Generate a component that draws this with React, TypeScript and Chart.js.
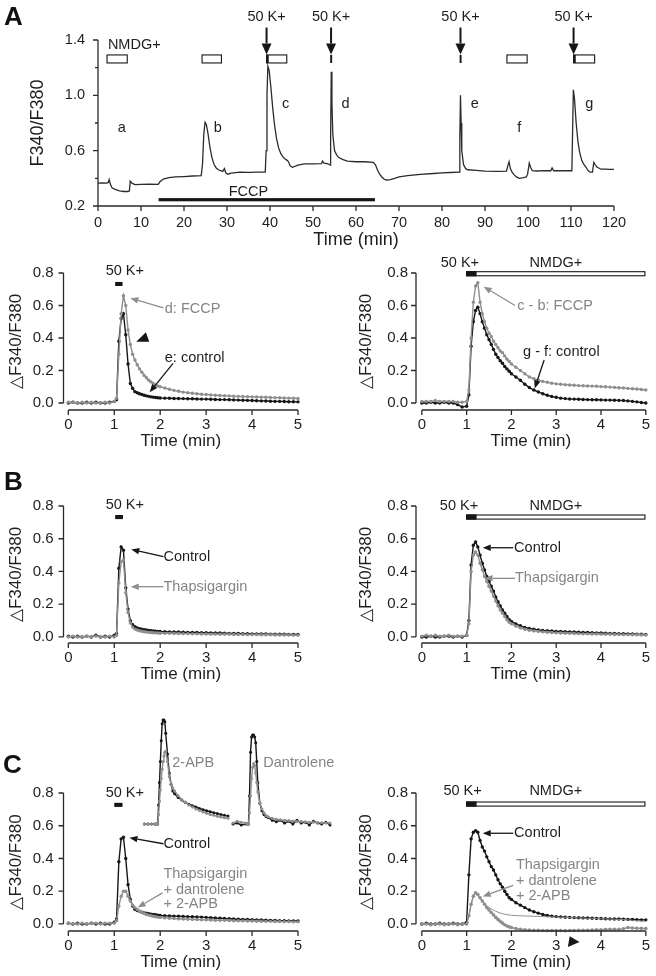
import React, { useEffect, useRef } from 'react';
import { Chart, registerables } from 'chart.js';
Chart.register(...registerables);

const FONT = '"Liberation Sans", Arial, Helvetica, sans-serif';
const INK = '#1e1e1e';
const AXIS = '#2a2a2a';
const BLACK = '#161616';
const GRAY = '#8e8e8e';
const GRAY_TXT = '#858585';

// ---------------- Panel A: whole recording ----------------
const A_TIME = [0,1,2,2.4,2.6,2.9,3.3,4,5,6,7,7.3,7.5,7.9,8.6,10,12,14,14.4,15.2,16.5,18,20,22,24,24.3,24.6,24.9,25.2,25.6,26,26.5,27,27.5,28,29,29.4,29.7,30.2,31,33,35,37,38.9,39.1,39.3,39.5,39.8,40.2,40.6,41,41.5,42,42.5,43,43.5,44,44.3,44.7,45.2,46.5,48,50,52,52.2,52.6,53.5,54,54.1,54.25,54.4,54.6,55,55.5,56,57,58,60,62,64,64.5,65,65.5,66,66.5,67,68,69,70,72,75,78,80,82,84,84.15,84.3,84.45,84.6,85,85.5,86,88,90,93,95,95.3,95.6,95.9,96.3,96.8,97.3,98,99,99.6,99.9,100.3,100.6,101,102,104,105.3,105.6,106,108,110.2,110.35,110.55,110.8,111.2,111.6,112,112.5,113,113.5,114,114.5,115,115.3,115.6,116,117,118,119,120];
const A_RATIO = [0.365,0.367,0.366,0.37,0.39,0.355,0.33,0.32,0.31,0.305,0.305,0.31,0.38,0.365,0.355,0.357,0.358,0.356,0.375,0.395,0.405,0.41,0.413,0.417,0.42,0.5,0.72,0.805,0.79,0.72,0.63,0.55,0.5,0.475,0.462,0.45,0.47,0.44,0.43,0.438,0.445,0.443,0.445,0.445,0.6,1.0,1.21,1.18,1.06,0.92,0.8,0.69,0.62,0.58,0.555,0.54,0.53,0.52,0.49,0.48,0.495,0.505,0.505,0.507,0.525,0.51,0.505,0.495,0.7,1.17,0.95,0.72,0.6,0.57,0.55,0.535,0.525,0.52,0.52,0.515,0.5,0.46,0.43,0.41,0.395,0.388,0.39,0.4,0.41,0.42,0.428,0.435,0.44,0.442,0.445,0.7,1.0,0.8,0.6,0.5,0.47,0.462,0.457,0.452,0.45,0.452,0.49,0.52,0.47,0.445,0.425,0.41,0.4,0.405,0.41,0.43,0.51,0.48,0.455,0.453,0.455,0.455,0.475,0.455,0.455,0.455,0.7,1.04,0.98,0.8,0.67,0.59,0.53,0.5,0.48,0.455,0.445,0.445,0.515,0.5,0.482,0.466,0.466,0.465,0.465];
const A_X_TICKS = [0,10,20,30,40,50,60,70,80,90,100,110,120];
const A_Y_TICKS = [0.2,0.6,1.0,1.4];
const A_Y_MINOR = [0.4,0.8,1.2];
const K_TIMES = [39.2,54.2,84.3,110.6];
const NMDG_BOXES = [[2.1,6.8],[24.2,28.7],[39.2,43.9],[95.1,99.8],[110.6,115.5]];
const K_MARKS = [[39.2,39.7],[54.0,54.45],[84.1,84.55],[110.6,111.1]];
const TRACE_LABELS = ['a','b','c','d','e','f','g'];
const TRACE_LABEL_T = [4.6,26.9,42.8,56.6,86.7,97.5,113.3];
const TRACE_LABEL_Y = [0.767,0.767,0.937,0.937,0.937,0.767,0.937];
const FCCP_RANGE = [14.1,64.4];

// ---------------- small panels (time in min) ----------------
const T5 = [0,0.1,0.2,0.3,0.4,0.5,0.6,0.7,0.8,0.9,1,1.05,1.1,1.15,1.2,1.25,1.3,1.35,1.4,1.45,1.5,1.55,1.6,1.65,1.7,1.75,1.8,1.85,1.9,1.95,2,2.1,2.2,2.3,2.4,2.5,2.6,2.7,2.8,2.9,3,3.1,3.2,3.3,3.4,3.5,3.6,3.7,3.8,3.9,4,4.1,4.2,4.3,4.4,4.5,4.6,4.7,4.8,4.9,5];
const X5_TICKS = [0,1,2,3,4,5];
const DF_TICKS = [0,0.2,0.4,0.6,0.8];

const A1_FCCP = [0.005,0.005,0,0.005,0,0.005,0,0,0.005,0,0.01, 0.03,0.3,0.55,0.66,0.6,0.45,0.36,0.3,0.265,0.235,0.21,0.19,0.17,0.155,0.14,0.13,0.12,0.11,0.105,0.1, 0.092,0.085,0.078,0.072,0.067,0.063,0.06,0.057,0.054,0.052,0.05,0.048,0.046,0.045,0.044,0.042,0.041,0.04,0.039,0.038,0.037,0.036,0.035,0.034,0.033,0.032,0.031,0.03,0.029,0.028];
const A1_CONTROL = [0,0.005,0,0,0.005,0,0.005,0,0,0.005,0.01, 0.02,0.38,0.52,0.55,0.42,0.24,0.12,0.09,0.07,0.063,0.057,0.052,0.048,0.044,0.041,0.038,0.036,0.034,0.032,0.031, 0.03,0.029,0.028,0.028,0.027,0.026,0.026,0.025,0.024,0.024,0.023,0.022,0.021,0.021,0.02,0.019,0.018,0.017,0.016,0.015,0.014,0.013,0.012,0.011,0.01,0.01,0.009,0.008,0.008,0.007];
const A2_FCCP = [0.01,0.01,0.01,0.015,0.01,0.01,0.01,0.01,0.005,0.005,0.01, 0.08,0.4,0.62,0.72,0.74,0.62,0.55,0.5,0.46,0.43,0.41,0.38,0.36,0.34,0.32,0.31,0.29,0.27,0.255,0.24, 0.22,0.2,0.18,0.16,0.15,0.14,0.133,0.128,0.122,0.118,0.115,0.113,0.111,0.109,0.107,0.106,0.105,0.104,0.103,0.101,0.1,0.098,0.096,0.094,0.092,0.09,0.088,0.086,0.083,0.08];
const A2_CONTROL = [0,0,0.005,0,0,0.005,0,0,-0.01,-0.025,-0.02, 0.05,0.35,0.5,0.57,0.59,0.55,0.5,0.46,0.42,0.39,0.36,0.33,0.3,0.28,0.26,0.245,0.225,0.21,0.195,0.18, 0.16,0.14,0.115,0.095,0.08,0.068,0.057,0.048,0.04,0.035,0.03,0.027,0.025,0.024,0.023,0.022,0.021,0.02,0.02,0.019,0.018,0.018,0.017,0.016,0.015,0.013,0.01,0.007,0.003,0];
const B1_CONTROL = [0.005,0,0.005,0,0.005,0,0.01,0,0.005,0,0.01, 0.02,0.42,0.55,0.53,0.3,0.17,0.1,0.075,0.062,0.055,0.05,0.047,0.044,0.042,0.04,0.038,0.036,0.035,0.034,0.033, 0.032,0.031,0.03,0.03,0.029,0.028,0.028,0.027,0.026,0.026,0.025,0.024,0.024,0.023,0.022,0.022,0.021,0.02,0.02,0.019,0.019,0.018,0.018,0.017,0.017,0.016,0.016,0.015,0.015,0.015];
const B1_THAPS = [0,0.005,0,0,0.005,0,0.005,0,0,0.005,0, 0.01,0.33,0.46,0.47,0.27,0.15,0.085,0.06,0.048,0.042,0.038,0.035,0.032,0.03,0.028,0.027,0.026,0.025,0.024,0.023, 0.022,0.022,0.021,0.021,0.02,0.02,0.019,0.019,0.018,0.018,0.017,0.017,0.016,0.016,0.016,0.015,0.015,0.015,0.014,0.014,0.014,0.013,0.013,0.013,0.012,0.012,0.012,0.012,0.011,0.011];
const B2_CONTROL = [0,0,0.005,0,0,0.005,0.005,0,0.005,0,0.01, 0.1,0.44,0.56,0.58,0.55,0.5,0.45,0.41,0.37,0.34,0.31,0.28,0.245,0.215,0.19,0.165,0.145,0.125,0.105,0.095, 0.08,0.068,0.058,0.052,0.047,0.043,0.04,0.038,0.036,0.034,0.033,0.032,0.031,0.03,0.029,0.028,0.027,0.026,0.025,0.024,0.023,0.022,0.021,0.02,0.02,0.019,0.018,0.017,0.016,0.015];
const B2_THAPS = [0.005,0.01,0.005,0.01,0.005,0.005,0.01,0.005,0.005,0.005,0.01, 0.08,0.4,0.5,0.52,0.5,0.45,0.41,0.37,0.34,0.31,0.28,0.25,0.22,0.19,0.165,0.145,0.125,0.105,0.09,0.08, 0.066,0.055,0.047,0.041,0.037,0.034,0.031,0.029,0.027,0.025,0.024,0.023,0.022,0.021,0.02,0.019,0.019,0.018,0.018,0.017,0.016,0.016,0.015,0.015,0.014,0.014,0.013,0.013,0.012,0.012];
const C1_CONTROL = [0.005,0,0.005,0,0,0.005,0,0.005,0,0,0.01, 0.03,0.38,0.52,0.53,0.4,0.24,0.15,0.11,0.09,0.082,0.077,0.072,0.068,0.065,0.062,0.06,0.058,0.056,0.054,0.052, 0.05,0.049,0.048,0.047,0.046,0.045,0.044,0.043,0.042,0.04,0.038,0.036,0.035,0.033,0.032,0.03,0.029,0.028,0.027,0.026,0.025,0.024,0.023,0.022,0.021,0.02,0.02,0.019,0.018,0.018];
const C1_TDA = [0.005,0,0,0.005,0,0.005,0.005,0,0.005,0.005,0.005, 0.02,0.11,0.17,0.2,0.2,0.17,0.14,0.115,0.1,0.088,0.078,0.07,0.064,0.058,0.054,0.05,0.047,0.044,0.042,0.04, 0.037,0.035,0.033,0.031,0.03,0.029,0.028,0.027,0.026,0.025,0.024,0.023,0.022,0.022,0.021,0.02,0.02,0.019,0.018,0.018,0.017,0.017,0.016,0.016,0.015,0.015,0.014,0.014,0.013,0.013];
const C2_CONTROL = [0,0.005,0,0,0.005,0,0,0.005,0,0,0.01, 0.3,0.52,0.56,0.57,0.56,0.51,0.47,0.445,0.41,0.38,0.35,0.33,0.3,0.27,0.245,0.225,0.2,0.18,0.16,0.15, 0.13,0.115,0.1,0.085,0.075,0.066,0.058,0.052,0.048,0.045,0.043,0.041,0.04,0.039,0.038,0.037,0.036,0.035,0.034,0.033,0.032,0.031,0.03,0.03,0.029,0.028,0.027,0.026,0.025,0.025];
const C2_TDA = [0,0,-0.005,0,0,-0.005,0,0,-0.005,0,0, 0.05,0.12,0.17,0.19,0.18,0.16,0.14,0.12,0.1,0.085,0.07,0.055,0.04,0.028,0.016,0.005,-0.005,-0.012,-0.018,-0.022, -0.028,-0.032,-0.035,-0.037,-0.038,-0.039,-0.04,-0.04,-0.04,-0.04,-0.04,-0.041,-0.04,-0.04,-0.039,-0.038,-0.038,-0.037,-0.036,-0.035,-0.034,-0.033,-0.033,-0.032,-0.03,-0.022,-0.025,-0.026,-0.027,-0.028];
const C2_TDA_RAW = [0,0,0,0,0,0,0,0,0,0,0, 0.05,0.12,0.17,0.19,0.18,0.16,0.14,0.125,0.11,0.1,0.092,0.085,0.078,0.072,0.067,0.063,0.06,0.057,0.055,0.053, 0.051,0.05,0.049,0.048,0.047,0.046,0.045,0.044,0.043,0.042,0.041,0.04,0.039,0.038,0.037,0.036,0.035,0.034,0.033,0.032,0.031,0.03,0.029,0.028,0.027,0.025,0.022,0.02,0.018,0.016];

// insets (panel C left)
const TI = [0.3,0.5,0.7,0.9,1,1.05,1.1,1.15,1.2,1.25,1.3,1.35,1.4,1.45,1.5,1.6,1.7,1.8,1.9,2,2.2,2.4,2.6,2.8,3,3.2,3.4,3.6,3.8,4,4.2,4.4,4.6,4.8,5];
const INSET_APB_CONTROL = [0,0,0,0,0, 0,0.1,0.22,0.33,0.44,0.53,0.55,0.55,0.54,0.48, 0.37,0.27,0.21,0.175,0.16, 0.14,0.127,0.115,0.105,0.097,0.09,0.082,0.076,0.07,0.065,0.06,0.055,0.05,0.046,0.042];
const INSET_APB = [0,0,0,0,0, 0,0.05,0.12,0.18,0.24,0.29,0.33,0.36,0.38,0.385, 0.33,0.25,0.21,0.19,0.175, 0.15,0.13,0.115,0.1,0.09,0.08,0.072,0.064,0.057,0.051,0.046,0.041,0.037,0.033,0.03];
const INSET_DAN_CONTROL = [0,0.005,-0.005,0,0, 0,0.15,0.38,0.46,0.47,0.47,0.46,0.43,0.33,0.22, 0.11,0.07,0.05,0.04,0.035, 0.02,0.012,0.02,0.005,0.015,0,0.02,0.005,0.01,-0.005,0.015,0.005,0,0.01,-0.005];
const INSET_DAN = [0.005,0.015,0.01,0.005,0, 0,0.06,0.15,0.24,0.3,0.32,0.31,0.27,0.22,0.17, 0.11,0.08,0.06,0.045,0.038, 0.03,0.025,0.022,0.02,0.018,0.016,0.014,0.013,0.012,0.01,0.009,0.008,0.007,0.006,0.005];

// ---------------- helpers ----------------
type Pt = [number, number];
type Ann =
  | { k: 'text'; x: number; y: number; s: string; c?: string; a?: CanvasTextAlign; size?: number }
  | { k: 'ptext'; x: number; y: number; s: string; size: number }
  | { k: 'arrow'; x1: number; y1: number; x2: number; y2: number; c?: string; lw?: number; hl?: number; hw?: number }
  | { k: 'rect'; x1: number; x2: number; y1: number; y2: number; fill: string; stroke?: string }
  | { k: 'tri'; p: Pt[]; c: string };

interface AxisSpec { x0: number; x1: number; xt: number[]; y0: number; y1: number; yt: number[]; ym?: number[] }

interface PanelSpec {
  box: [number, number, number, number];
  area: [number, number, number, number];
  xr: [number, number];
  yr: [number, number];
  xTicks?: number[];
  yTicks?: number[];
  xTitle?: string; xTitleY?: number;
  yTitle?: string; yTitleX?: number;
  titleSize?: number;
  tickSize?: number; xPad?: number; yPad?: number;
  datasets: any[];
  axes?: AxisSpec;
  anns: Ann[];
}

const pts = (t: number[], v: number[]) => t.map((x, i) => ({ x, y: v[i] }));
const dotted = (t: number[], v: number[], color: string, r = 1.7) => ({
  data: pts(t, v), borderColor: color, backgroundColor: color, pointBackgroundColor: color,
  pointBorderWidth: 0, pointRadius: r, borderWidth: 1.4, tension: 0, clip: false, fill: false,
});
const thin = (t: number[], v: number[], color: string) => ({
  data: pts(t, v), borderColor: color, borderWidth: 1, pointRadius: 0, tension: 0, clip: false, fill: false,
});

function drawArrow(ctx: CanvasRenderingContext2D, x1: number, y1: number, x2: number, y2: number, color: string, lw: number, hl: number, hw: number) {
  const ang = Math.atan2(y2 - y1, x2 - x1);
  const bx = x2 - hl * Math.cos(ang), by = y2 - hl * Math.sin(ang);
  ctx.strokeStyle = color; ctx.lineWidth = lw;
  ctx.beginPath(); ctx.moveTo(x1, y1); ctx.lineTo(bx, by); ctx.stroke();
  ctx.fillStyle = color;
  ctx.beginPath(); ctx.moveTo(x2, y2);
  ctx.lineTo(bx + (hw / 2) * Math.sin(ang), by - (hw / 2) * Math.cos(ang));
  ctx.lineTo(bx - (hw / 2) * Math.sin(ang), by + (hw / 2) * Math.cos(ang));
  ctx.closePath(); ctx.fill();
}

function deco(spec: PanelSpec) {
  return {
    id: 'deco',
    afterDraw(chart: any) {
      const { ctx, chartArea: ca } = chart;
      const xs = chart.scales.x, ys = chart.scales.y;
      const X = (v: number) => xs.getPixelForValue(v);
      const Y = (v: number) => ys.getPixelForValue(v);
      ctx.save();
      const ax = spec.axes;
      if (ax) {
        ctx.strokeStyle = AXIS; ctx.lineWidth = 1.3;
        const yb = ca.bottom, xl = ca.left;
        ctx.beginPath();
        ctx.moveTo(X(ax.x0), yb); ctx.lineTo(X(ax.x1), yb);
        for (const v of ax.xt) { ctx.moveTo(X(v), yb); ctx.lineTo(X(v), yb + 5); }
        ctx.moveTo(xl, Y(ax.y0)); ctx.lineTo(xl, Y(ax.y1));
        for (const v of ax.yt) { ctx.moveTo(xl - 5, Y(v)); ctx.lineTo(xl, Y(v)); }
        for (const v of ax.ym ?? []) { ctx.moveTo(xl - 3, Y(v)); ctx.lineTo(xl, Y(v)); }
        ctx.stroke();
      }
      ctx.textBaseline = 'middle';
      for (const a of spec.anns) {
        if (a.k === 'text') {
          ctx.font = `${a.size ?? 14.5}px ${FONT}`;
          ctx.fillStyle = a.c ?? INK;
          ctx.textAlign = a.a ?? 'left';
          ctx.fillText(a.s, X(a.x), Y(a.y));
        } else if (a.k === 'ptext') {
          ctx.font = `bold ${a.size}px ${FONT}`;
          ctx.fillStyle = '#111';
          ctx.textAlign = 'left';
          ctx.fillText(a.s, a.x, a.y);
        } else if (a.k === 'arrow') {
          drawArrow(ctx, X(a.x1), Y(a.y1), X(a.x2), Y(a.y2), a.c ?? BLACK, a.lw ?? 1.3, a.hl ?? 8, a.hw ?? 6.5);
        } else if (a.k === 'rect') {
          const x = X(a.x1), w = X(a.x2) - x;
          const y = Math.min(Y(a.y1), Y(a.y2)), h = Math.abs(Y(a.y2) - Y(a.y1));
          ctx.fillStyle = a.fill; ctx.fillRect(x, y, w, h);
          if (a.stroke) { ctx.strokeStyle = a.stroke; ctx.lineWidth = 1.1; ctx.strokeRect(x, y, w, h); }
        } else if (a.k === 'tri') {
          ctx.fillStyle = a.c;
          ctx.beginPath();
          a.p.forEach(([px, py], i) => (i ? ctx.lineTo(X(px), Y(py)) : ctx.moveTo(X(px), Y(py))));
          ctx.closePath(); ctx.fill();
        }
      }
      ctx.restore();
    },
  };
}

function makeConfig(spec: PanelSpec) {
  const [bl, bt, bw, bh] = spec.box;
  const [al, at, ar, ab] = spec.area;
  const ts = spec.titleSize ?? 17;
  const lh = ts * 1.2;
  const tickFont = { family: FONT, size: spec.tickSize ?? 15 };
  return {
    type: 'line',
    data: { datasets: spec.datasets },
    options: {
      animation: false, responsive: false, maintainAspectRatio: false, events: [],
      layout: { padding: { left: 0, top: at - bt, right: bl + bw - ar, bottom: 0 } },
      plugins: { legend: { display: false }, tooltip: { enabled: false }, title: { display: false } },
      scales: {
        x: {
          type: 'linear', min: spec.xr[0], max: spec.xr[1],
          grid: { display: false, drawTicks: false }, border: { display: false },
          ticks: {
            display: !!spec.xTicks, padding: spec.xPad ?? 6, font: tickFont, color: INK,
            maxRotation: 0, minRotation: 0, autoSkip: false, callback: (v: any) => String(v),
          },
          afterBuildTicks: (s: any) => { if (spec.xTicks) s.ticks = spec.xTicks.map((v) => ({ value: v })); },
          afterFit: (s: any) => { s.height = bt + bh - ab; },
          title: spec.xTitle
            ? { display: true, text: spec.xTitle, color: INK, font: { family: FONT, size: ts }, padding: { top: 0, bottom: bt + bh - (spec.xTitleY as number) - lh / 2 } }
            : { display: false },
        },
        y: {
          type: 'linear', min: spec.yr[0], max: spec.yr[1],
          grid: { display: false, drawTicks: false }, border: { display: false },
          ticks: {
            display: !!spec.yTicks, padding: spec.yPad ?? 10, font: tickFont, color: INK,
            autoSkip: false, callback: (v: any) => Number(v).toFixed(1),
          },
          afterBuildTicks: (s: any) => { if (spec.yTicks) s.ticks = spec.yTicks.map((v) => ({ value: v })); },
          afterFit: (s: any) => { s.width = al - bl; },
          title: spec.yTitle
            ? { display: true, text: spec.yTitle, color: INK, font: { family: FONT, size: ts }, padding: { top: (spec.yTitleX as number) - bl - lh / 2, bottom: 0 } }
            : { display: false },
        },
      },
    },
    plugins: [deco(spec)],
  };
}

// ---------------- layout ----------------
const ROWS = [
  { boxTop: 245, boxBottom: 458, top: 273, axis: 410, min: -0.043 },
  { boxTop: 458, boxBottom: 700, top: 506, axis: 643, min: -0.037 },
  { boxTop: 700, boxBottom: 976, top: 793, axis: 931, min: -0.043 },
];
const COLS = [
  { boxLeft: 0, boxW: 330, l: 63.5, r: 298, xmin: -0.105, yTitleX: 16, yPad: 10 },
  { boxLeft: 330, boxW: 326, l: 416, r: 650, xmin: -0.13, yTitleX: 366, yPad: 8 },
];
const Y_TITLE = '\u25B3F340/F380';
const SMALL_AXES: AxisSpec = { x0: 0, x1: 5, xt: X5_TICKS, y0: 0, y1: 0.8, yt: DF_TICKS };

function small(row: number, col: number, datasets: any[], anns: Ann[]): PanelSpec {
  const R = ROWS[row], C = COLS[col];
  return {
    box: [C.boxLeft, R.boxTop, C.boxW, R.boxBottom - R.boxTop],
    area: [C.l, R.top, C.r, R.axis],
    xr: [C.xmin, 5], yr: [R.min, 0.8],
    xTicks: X5_TICKS, yTicks: DF_TICKS,
    xTitle: 'Time (min)', xTitleY: R.axis + 31.5,
    yTitle: Y_TITLE, yTitleX: C.yTitleX,
    xPad: 6, yPad: C.yPad,
    datasets, axes: SMALL_AXES, anns,
  };
}

const kLeft = (yt: number, yb1: number, yb2: number, x1: number, x2: number): Ann[] => [
  { k: 'text', x: 1.23, y: yt, s: '50 K+', a: 'center', size: 14.5 },
  { k: 'rect', x1, x2, y1: yb1, y2: yb2, fill: BLACK },
];
const kRight = (xt: number, yt: number, yb1: number, yb2: number): Ann[] => [
  { k: 'text', x: xt, y: yt, s: '50 K+', a: 'center', size: 14.5 },
  { k: 'text', x: 2.99, y: yt, s: 'NMDG+', a: 'center', size: 14.5 },
  { k: 'rect', x1: 1.0, x2: 4.98, y1: yb1, y2: yb2, fill: '#ffffff', stroke: BLACK },
  { k: 'rect', x1: 1.0, x2: 1.21, y1: yb1, y2: yb2, fill: BLACK, stroke: BLACK },
];

const panelA: PanelSpec = {
  box: [0, 0, 656, 255],
  area: [98, 40, 614, 206],
  xr: [0, 120], yr: [0.2, 1.4],
  xTicks: A_X_TICKS, yTicks: A_Y_TICKS,
  xTitle: 'Time (min)', xTitleY: 240,
  yTitle: 'F340/F380', yTitleX: 38, titleSize: 18,
  tickSize: 14.5, xPad: 8, yPad: 13,
  datasets: [{ data: pts(A_TIME, A_RATIO), borderColor: '#2b2b2b', borderWidth: 1.3, pointRadius: 0, tension: 0, fill: false }],
  axes: { x0: 0, x1: 120, xt: A_X_TICKS, y0: 0.2, y1: 1.4, yt: A_Y_TICKS, ym: A_Y_MINOR },
  anns: [
    { k: 'ptext', x: 4, y: 18, s: 'A', size: 26 },
    ...K_TIMES.flatMap((t): Ann[] => [
      { k: 'text', x: t, y: 1.566, s: '50 K+', a: 'center', size: 14.5 },
      { k: 'arrow', x1: t, y1: 1.49, x2: t, y2: 1.296, lw: 2, hl: 11, hw: 10 },
    ]),
    ...NMDG_BOXES.map(([a, b]): Ann => ({ k: 'rect', x1: a, x2: b, y1: 1.292, y2: 1.234, fill: '#ffffff', stroke: BLACK })),
    ...K_MARKS.map(([a, b]): Ann => ({ k: 'rect', x1: a, x2: b, y1: 1.292, y2: 1.234, fill: BLACK })),
    { k: 'text', x: 2.3, y: 1.364, s: 'NMDG+', size: 14.5 },
    ...TRACE_LABELS.map((s, i): Ann => ({ k: 'text', x: TRACE_LABEL_T[i], y: TRACE_LABEL_Y[i], s, size: 14.5 })),
    { k: 'rect', x1: FCCP_RANGE[0], x2: FCCP_RANGE[1], y1: 0.257, y2: 0.234, fill: BLACK },
    { k: 'text', x: 35, y: 0.298, s: 'FCCP', a: 'center', size: 14.5 },
  ],
};

const panelA1 = small(0, 0, [dotted(T5, A1_FCCP, GRAY), dotted(T5, A1_CONTROL, BLACK)], [
  ...kLeft(0.81, 0.745, 0.72, 1.02, 1.18),
  { k: 'arrow', x1: 2.07, y1: 0.585, x2: 1.35, y2: 0.645, c: GRAY },
  { k: 'text', x: 2.1, y: 0.58, s: 'd: FCCP', c: GRAY_TXT },
  { k: 'tri', p: [[1.478, 0.377], [1.761, 0.377], [1.689, 0.435]], c: BLACK },
  { k: 'text', x: 2.1, y: 0.275, s: 'e: control' },
  { k: 'arrow', x1: 2.28, y1: 0.244, x2: 1.77, y2: 0.066 },
]);
const panelA2 = small(0, 1, [dotted(T5, A2_FCCP, GRAY), dotted(T5, A2_CONTROL, BLACK)], [
  ...kRight(0.85, 0.86, 0.808, 0.783),
  { k: 'arrow', x1: 2.08, y1: 0.6, x2: 1.38, y2: 0.716, c: GRAY },
  { k: 'text', x: 2.13, y: 0.6, s: 'c - b: FCCP', c: GRAY_TXT },
  { k: 'text', x: 2.26, y: 0.316, s: 'g - f: control' },
  { k: 'arrow', x1: 2.73, y1: 0.265, x2: 2.52, y2: 0.09 },
]);
const panelB1 = small(1, 0, [dotted(T5, B1_THAPS, GRAY), dotted(T5, B1_CONTROL, BLACK)], [
  { k: 'ptext', x: 4, y: 25, s: 'B', size: 26 },
  ...kLeft(0.806, 0.745, 0.72, 1.02, 1.19),
  { k: 'arrow', x1: 2.07, y1: 0.49, x2: 1.37, y2: 0.535 },
  { k: 'text', x: 2.07, y: 0.49, s: 'Control' },
  { k: 'arrow', x1: 2.07, y1: 0.307, x2: 1.36, y2: 0.307, c: GRAY },
  { k: 'text', x: 2.07, y: 0.307, s: 'Thapsigargin', c: GRAY_TXT },
]);
const panelB2 = small(1, 1, [dotted(T5, B2_THAPS, GRAY), dotted(T5, B2_CONTROL, BLACK)], [
  ...kRight(0.83, 0.8, 0.745, 0.72),
  { k: 'arrow', x1: 2.04, y1: 0.545, x2: 1.36, y2: 0.545 },
  { k: 'text', x: 2.06, y: 0.545, s: 'Control' },
  { k: 'arrow', x1: 2.08, y1: 0.358, x2: 1.4, y2: 0.358, c: GRAY },
  { k: 'text', x: 2.08, y: 0.358, s: 'Thapsigargin', c: GRAY_TXT },
]);
const panelC1 = small(2, 0, [dotted(T5, C1_TDA, GRAY), dotted(T5, C1_CONTROL, BLACK)], [
  { k: 'ptext', x: 3, y: 66, s: 'C', size: 26 },
  ...kLeft(0.8, 0.74, 0.715, 1.0, 1.18),
  { k: 'arrow', x1: 2.07, y1: 0.49, x2: 1.33, y2: 0.527 },
  { k: 'text', x: 2.07, y: 0.49, s: 'Control' },
  { k: 'text', x: 2.07, y: 0.307, s: 'Thapsigargin', c: GRAY_TXT },
  { k: 'text', x: 2.07, y: 0.21, s: '+ dantrolene', c: GRAY_TXT },
  { k: 'text', x: 2.07, y: 0.123, s: '+ 2-APB', c: GRAY_TXT },
  { k: 'arrow', x1: 2.05, y1: 0.19, x2: 1.51, y2: 0.1, c: GRAY },
]);
const panelC2 = small(2, 1, [dotted(T5, C2_TDA, GRAY, 1.8), thin(T5, C2_TDA_RAW, GRAY), dotted(T5, C2_CONTROL, BLACK)], [
  ...kRight(0.91, 0.81, 0.745, 0.72),
  { k: 'arrow', x1: 2.04, y1: 0.554, x2: 1.36, y2: 0.554 },
  { k: 'text', x: 2.06, y: 0.554, s: 'Control' },
  { k: 'text', x: 2.1, y: 0.363, s: 'Thapsigargin', c: GRAY_TXT },
  { k: 'text', x: 2.1, y: 0.265, s: '+ dantrolene', c: GRAY_TXT },
  { k: 'text', x: 2.1, y: 0.172, s: '+ 2-APB', c: GRAY_TXT },
  { k: 'arrow', x1: 2.04, y1: 0.236, x2: 1.36, y2: 0.168, c: GRAY },
  { k: 'tri', p: [[3.3, -0.075], [3.26, -0.14], [3.52, -0.11]], c: BLACK },
]);

const insetAPB: PanelSpec = {
  box: [140, 712, 92, 120], area: [144, 715, 230, 828],
  xr: [0.28, 5], yr: [-0.021, 0.571],
  datasets: [dotted(TI, INSET_APB, GRAY, 1.5), dotted(TI, INSET_APB_CONTROL, BLACK, 1.5)],
  anns: [{ k: 'text', x: 1.87, y: 0.325, s: '2-APB', c: GRAY_TXT }],
};
const insetDAN: PanelSpec = {
  box: [229, 712, 105, 120], area: [231.6, 715, 330, 828],
  xr: [0.3, 5], yr: [-0.021, 0.571],
  datasets: [dotted(TI, INSET_DAN, GRAY, 1.5), dotted(TI, INSET_DAN_CONTROL, BLACK, 1.5)],
  anns: [{ k: 'text', x: 1.77, y: 0.325, s: 'Dantrolene', c: GRAY_TXT }],
};

const SPECS: PanelSpec[] = [panelA, panelA1, panelA2, panelB1, panelB2, panelC1, panelC2, insetAPB, insetDAN];

function ChartBox({ spec }: { spec: PanelSpec }) {
  const ref = useRef<HTMLCanvasElement>(null);
  useEffect(() => {
    const chart = new Chart(ref.current as HTMLCanvasElement, makeConfig(spec) as any);
    return () => chart.destroy();
  }, [spec]);
  const [l, t, w, h] = spec.box;
  return (
    <canvas ref={ref} width={w} height={h}
      style={{ position: 'absolute', left: l, top: t, width: w, height: h }} />
  );
}

export default function App() {
  useEffect(() => { document.body.style.margin = '0'; }, []);
  return (
    <div style={{ position: 'absolute', left: 0, top: 0, width: 656, height: 976, background: '#ffffff', overflow: 'hidden' }}>
      {SPECS.map((s, i) => <ChartBox key={i} spec={s} />)}
    </div>
  );
}
